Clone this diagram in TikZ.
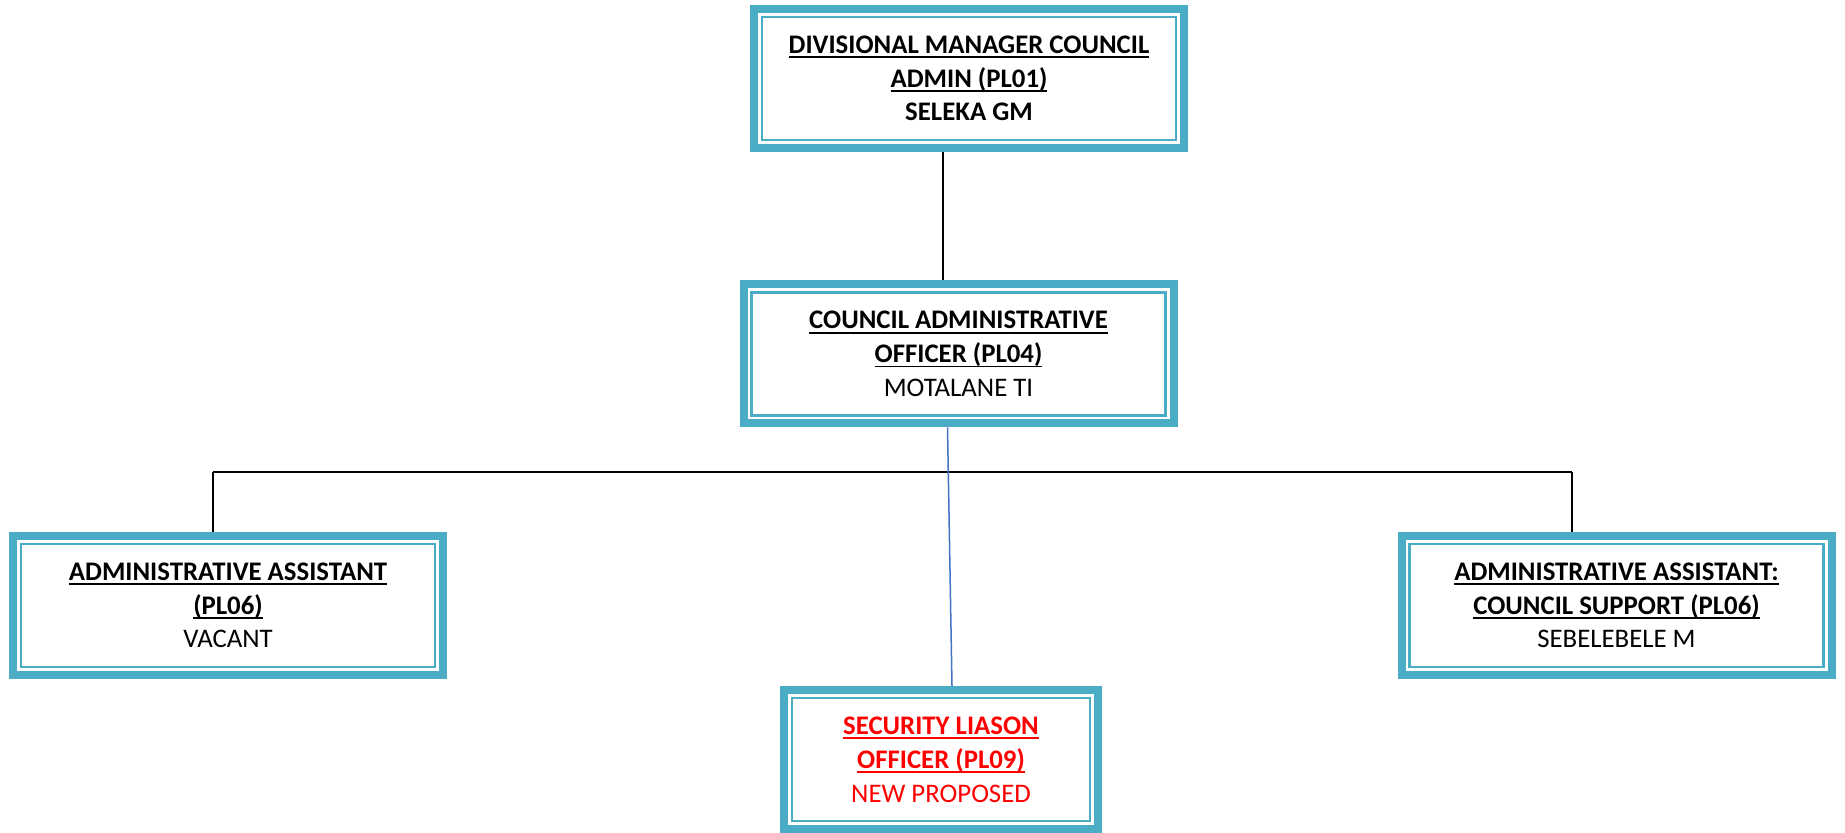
\documentclass[tikz,border=0pt]{standalone}
\usepackage{fontspec}
\setmainfont{Carlito}
\usepackage{xcolor}

\definecolor{boxteal}{HTML}{4BACC6}
\definecolor{linkblue}{HTML}{4472C4}
\definecolor{newred}{HTML}{FF0000}

\newcommand{\hdline}[1]{\textbf{\setbox0\hbox{#1}\rlap{\rule[-2.4pt]{\wd0}{0.9pt}}\box0}}

\tikzset{
  post/.style={draw=boxteal, line width=4pt, fill=white, inner sep=0pt,
    minimum width=#1, minimum height=69.5pt, align=center,
    font=\fontsize{13.4}{16.9}\selectfont,
    path picture={\draw[boxteal, line width=1.3pt]
      ([xshift=4pt,yshift=4pt]path picture bounding box.south west) rectangle
      ([xshift=-4pt,yshift=-4pt]path picture bounding box.north east);}},
  link/.style={black, line width=1pt}
}

\begin{document}
\begin{tikzpicture}[x=0.5pt, y=-0.5pt]
        \useasboundingbox (0,0) rectangle (1845,833);

        % Posts
        \node[post=215pt] (dm) at (969,78.5)
          {\hdline{DIVISIONAL MANAGER COUNCIL}\\ \hdline{ADMIN (PL01)}\\ \textbf{SELEKA GM}};
        \node[post=215pt] (cao) at (958.5,354)
          {\hdline{COUNCIL ADMINISTRATIVE}\\ \hdline{OFFICER (PL04)}\\ MOTALANE TI};
        \node[post=215pt] (aa) at (228,605.5)
          {\hdline{ADMINISTRATIVE ASSISTANT}\\ \hdline{(PL06)}\\ VACANT};
        \node[post=215pt] (aacs) at (1616.5,605.5)
          {\hdline{ADMINISTRATIVE ASSISTANT:}\\ \hdline{COUNCIL SUPPORT (PL06)}\\ SEBELEBELE M};
        \node[post=157pt, text=newred] (slo) at (941,759.5)
          {\hdline{SECURITY LIASON}\\ \hdline{OFFICER (PL09)}\\ NEW PROPOSED};

        % Reporting lines
        \coordinate (top) at (943,0);
        \draw[link] (dm.south -| top) -- (cao.north -| top);

        \coordinate (busL) at (213,472);
        \coordinate (busR) at (1572,472);
        \draw[link] (busL) -- (busR);
        \draw[link] (busL) -- (busL |- aa.north);
        \draw[link] (busR) -- (busR |- aacs.north);

        % Proposed post
        \draw[linkblue, line width=0.75pt] ([xshift=-5.5pt]cao.south) -- ([xshift=5.5pt]slo.north);
    \end{tikzpicture}
\end{document}
